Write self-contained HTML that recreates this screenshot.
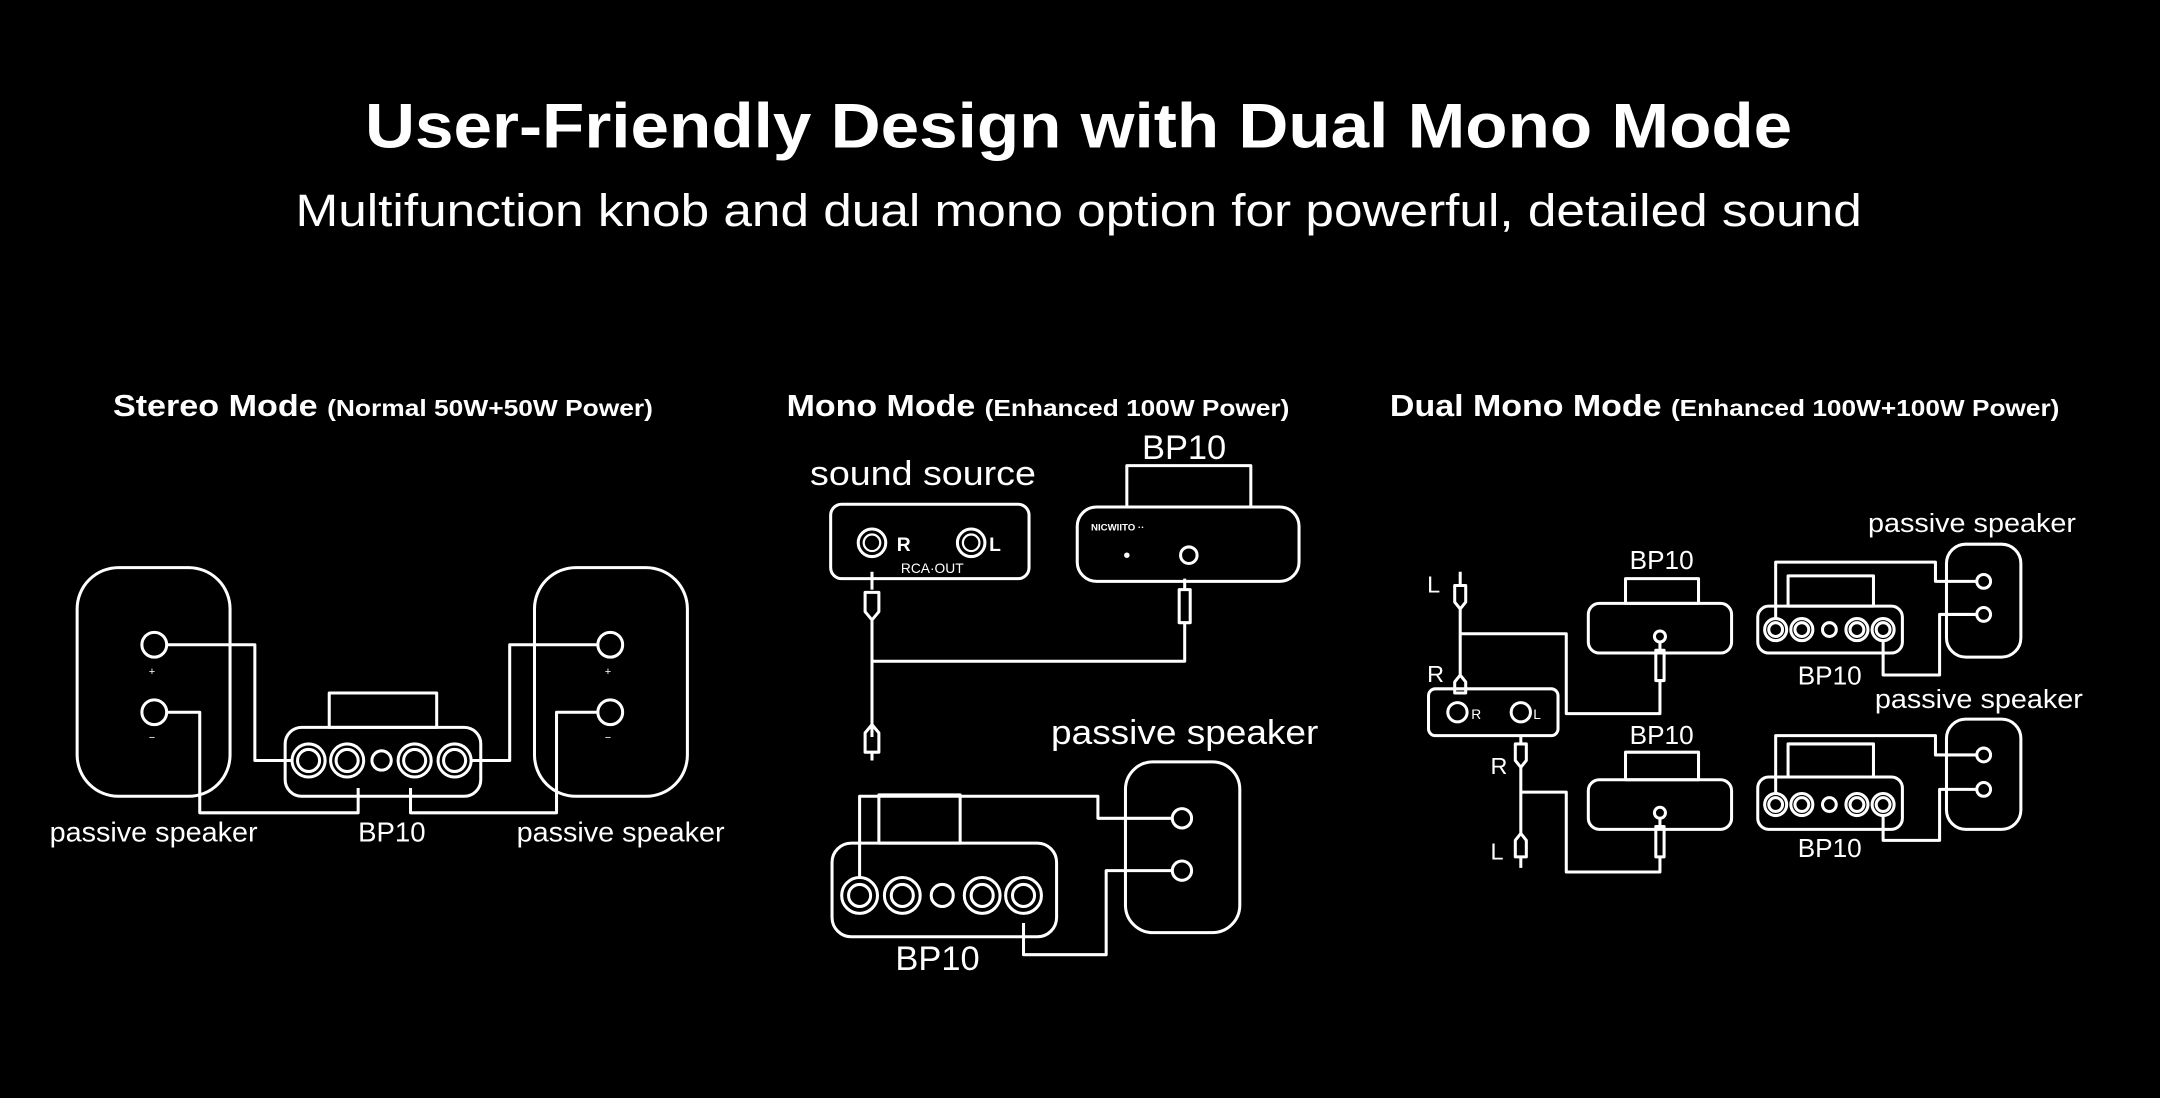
<!DOCTYPE html>
<html><head><meta charset="utf-8"><style>
html,body{margin:0;padding:0;background:#000;}
svg{display:block;}
text{fill:#fff;font-family:"Liberation Sans",sans-serif;}
.l{fill:none;stroke:#fff;stroke-width:2.2;stroke-linejoin:round;}
.t{fill:none;stroke:#fff;stroke-width:1.6;}
</style></head><body>
<svg width="2160" height="1098" viewBox="0 0 1568 797" xmlns="http://www.w3.org/2000/svg">
<rect width="1568" height="797" fill="#000"/>
<text x="783" y="107" text-anchor="middle" font-size="46" font-weight="bold" textLength="1036" lengthAdjust="spacingAndGlyphs">User-Friendly Design with Dual Mono Mode</text>
<text x="783" y="164" text-anchor="middle" font-size="33" textLength="1137" lengthAdjust="spacingAndGlyphs">Multifunction knob and dual mono option for powerful, detailed sound</text>

<!-- section titles -->
<text x="82" y="302" font-size="22" font-weight="bold" textLength="392" lengthAdjust="spacingAndGlyphs">Stereo Mode <tspan font-size="17">(Normal 50W+50W Power)</tspan></text>
<text x="571" y="302" font-size="22" font-weight="bold" textLength="365" lengthAdjust="spacingAndGlyphs">Mono Mode <tspan font-size="17">(Enhanced 100W Power)</tspan></text>
<text x="1009" y="302" font-size="22" font-weight="bold" textLength="486" lengthAdjust="spacingAndGlyphs">Dual Mono Mode <tspan font-size="17">(Enhanced 100W+100W Power)</tspan></text>

<!-- STEREO -->
<rect class="l" x="56" y="412" width="111" height="166" rx="30"/>
<rect class="l" x="388" y="412" width="111" height="166" rx="30"/>
<circle class="l" cx="112" cy="468" r="9"/><circle class="l" cx="112" cy="517" r="9"/>
<circle class="l" cx="443" cy="468" r="9"/><circle class="l" cx="443" cy="517" r="9"/>
<text x="108" y="490" font-size="8">+</text><text x="108" y="538" font-size="8">−</text>
<text x="439" y="490" font-size="8">+</text><text x="439" y="538" font-size="8">−</text>
<rect class="l" x="239" y="503" width="78" height="25"/>
<rect class="l" x="207" y="528" width="142" height="50" rx="12"/>
<g class="l"><circle cx="224" cy="552" r="12"/><circle cx="224" cy="552" r="8"/><circle cx="252" cy="552" r="12"/><circle cx="252" cy="552" r="8"/><circle cx="277" cy="552" r="7"/><circle cx="301" cy="552" r="12"/><circle cx="301" cy="552" r="8"/><circle cx="330" cy="552" r="12"/><circle cx="330" cy="552" r="8"/></g>
<path class="l" d="M121 468 H185 V552 H212"/>
<path class="l" d="M121 517 H145 V590 H260 V572"/>
<path class="l" d="M434 468 H370 V552 H342"/>
<path class="l" d="M434 517 H404 V590 H298 V572"/>
<text x="36" y="611" font-size="20" textLength="151" lengthAdjust="spacingAndGlyphs">passive speaker</text>
<text x="260" y="611" font-size="20">BP10</text>
<text x="375" y="611" font-size="20" textLength="151" lengthAdjust="spacingAndGlyphs">passive speaker</text>

<!-- MONO -->
<text x="588" y="352" font-size="25" textLength="164" lengthAdjust="spacingAndGlyphs">sound source</text>
<text x="829" y="333" font-size="25">BP10</text>
<rect class="l" x="603" y="366" width="144" height="54" rx="8"/>
<circle class="l" cx="633" cy="394" r="10"/><circle class="t" cx="633" cy="394" r="6"/>
<circle class="l" cx="705" cy="394" r="10"/><circle class="t" cx="705" cy="394" r="6"/>
<text x="651" y="400" font-size="14" font-weight="bold">R</text>
<text x="718" y="400" font-size="14" font-weight="bold">L</text>
<text x="654" y="416" font-size="10">RCA·OUT</text>
<rect class="l" x="818" y="338" width="90" height="30"/>
<rect class="l" x="782" y="368" width="161" height="54" rx="14"/>
<text x="792" y="385" font-size="7" font-weight="bold">NICWIITO ··</text>
<circle cx="818" cy="403" r="2" fill="#fff"/>
<circle class="l" cx="863" cy="403" r="6"/>
<path class="l" d="M633 415 V428 M628 430 h10 v14 l-5 6 -5 -6 z M633 450 V535"/>
<path class="l" d="M628 532 l5 -6 5 6 v14 h-10 z M633 546 V552"/>
<path class="l" d="M633 480 H860 V452 M856 428 h8 v24 h-8 z M860 420 V428"/>
<text x="763" y="540" font-size="25" textLength="194" lengthAdjust="spacingAndGlyphs">passive speaker</text>
<rect class="l" x="817" y="553" width="83" height="124" rx="20"/>
<circle class="l" cx="858" cy="594" r="7"/><circle class="l" cx="858" cy="632" r="7"/>
<rect class="l" x="638" y="577" width="59" height="35"/>
<rect class="l" x="604" y="612" width="163" height="68" rx="14"/>
<g class="l"><circle cx="624" cy="650" r="13"/><circle cx="624" cy="650" r="8"/><circle cx="655" cy="650" r="13"/><circle cx="655" cy="650" r="8"/><circle cx="684" cy="650" r="8"/><circle cx="713" cy="650" r="13"/><circle cx="713" cy="650" r="8"/><circle cx="743" cy="650" r="13"/><circle cx="743" cy="650" r="8"/></g>
<path class="l" d="M624 637 V578 H797 V594 H851"/>
<path class="l" d="M743 670 V693 H803 V632 H851"/>
<text x="650" y="704" font-size="25">BP10</text>

<!-- DUAL MONO -->
<text x="1036" y="430" font-size="17">L</text>
<text x="1036" y="495" font-size="17">R</text>
<text x="1082" y="562" font-size="17">R</text>
<text x="1082" y="624" font-size="17">L</text>
<path class="l" d="M1060 415 V425 M1056 425 h8 v12 l-4 5 -4 -5 z M1060 442 V490 M1056 495 l4 -5 4 5 v8 h-8 z"/>
<path class="l" d="M1060 460 H1137 V518 H1205 V495 M1202 472 h6 v22 h-6 z M1205 466 V472"/>
<rect class="l" x="1037" y="500" width="94" height="34" rx="5"/>
<circle class="l" cx="1058" cy="517" r="7"/><circle class="l" cx="1104" cy="517" r="7"/>
<text x="1068" y="522" font-size="10">R</text><text x="1113" y="522" font-size="10">L</text>
<path class="l" d="M1104 534 V540 M1100 540 h8 v12 l-4 5 -4 -5 z M1104 557 V605 M1100 610 l4 -5 4 5 v12 h-8 z M1104 622 V630"/>
<path class="l" d="M1104 575 H1137 V633 H1205 V622 M1202 600 h6 v22 h-6 z M1205 594 V600"/>
<text x="1183" y="413" font-size="19">BP10</text>
<rect class="l" x="1180" y="420" width="53" height="18"/>
<rect class="l" x="1153" y="438" width="104" height="36" rx="8"/>
<circle class="l" cx="1205" cy="462" r="4"/>
<text x="1183" y="540" font-size="19">BP10</text>
<rect class="l" x="1180" y="546" width="53" height="20"/>
<rect class="l" x="1153" y="566" width="104" height="36" rx="8"/>
<circle class="l" cx="1205" cy="590" r="4"/>

<text x="1356" y="386" font-size="19" textLength="151" lengthAdjust="spacingAndGlyphs">passive speaker</text>
<rect class="l" x="1298" y="418" width="62" height="22"/>
<rect class="l" x="1276" y="440" width="105" height="34" rx="8"/>
<g class="l"><circle cx="1289" cy="457" r="8"/><circle cx="1289" cy="457" r="5"/><circle cx="1308" cy="457" r="8"/><circle cx="1308" cy="457" r="5"/><circle cx="1328" cy="457" r="5"/><circle cx="1348" cy="457" r="8"/><circle cx="1348" cy="457" r="5"/><circle cx="1367" cy="457" r="8"/><circle cx="1367" cy="457" r="5"/></g>
<rect class="l" x="1413" y="395" width="54" height="82" rx="14"/>
<circle class="l" cx="1440" cy="422" r="5"/><circle class="l" cx="1440" cy="446" r="5"/>
<path class="l" d="M1289 449 V408 H1405 V422 H1435"/>
<path class="l" d="M1367 465 V490 H1408 V446 H1435"/>
<text x="1305" y="497" font-size="19">BP10</text>

<text x="1361" y="514" font-size="19" textLength="151" lengthAdjust="spacingAndGlyphs">passive speaker</text>
<rect class="l" x="1298" y="540" width="62" height="24"/>
<rect class="l" x="1276" y="564" width="105" height="38" rx="8"/>
<g class="l"><circle cx="1289" cy="584" r="8"/><circle cx="1289" cy="584" r="5"/><circle cx="1308" cy="584" r="8"/><circle cx="1308" cy="584" r="5"/><circle cx="1328" cy="584" r="5"/><circle cx="1348" cy="584" r="8"/><circle cx="1348" cy="584" r="5"/><circle cx="1367" cy="584" r="8"/><circle cx="1367" cy="584" r="5"/></g>
<rect class="l" x="1413" y="522" width="54" height="80" rx="14"/>
<circle class="l" cx="1440" cy="548" r="5"/><circle class="l" cx="1440" cy="573" r="5"/>
<path class="l" d="M1289 576 V534 H1405 V548 H1435"/>
<path class="l" d="M1367 592 V610 H1408 V573 H1435"/>
<text x="1305" y="622" font-size="19">BP10</text>
</svg>
</body></html>
